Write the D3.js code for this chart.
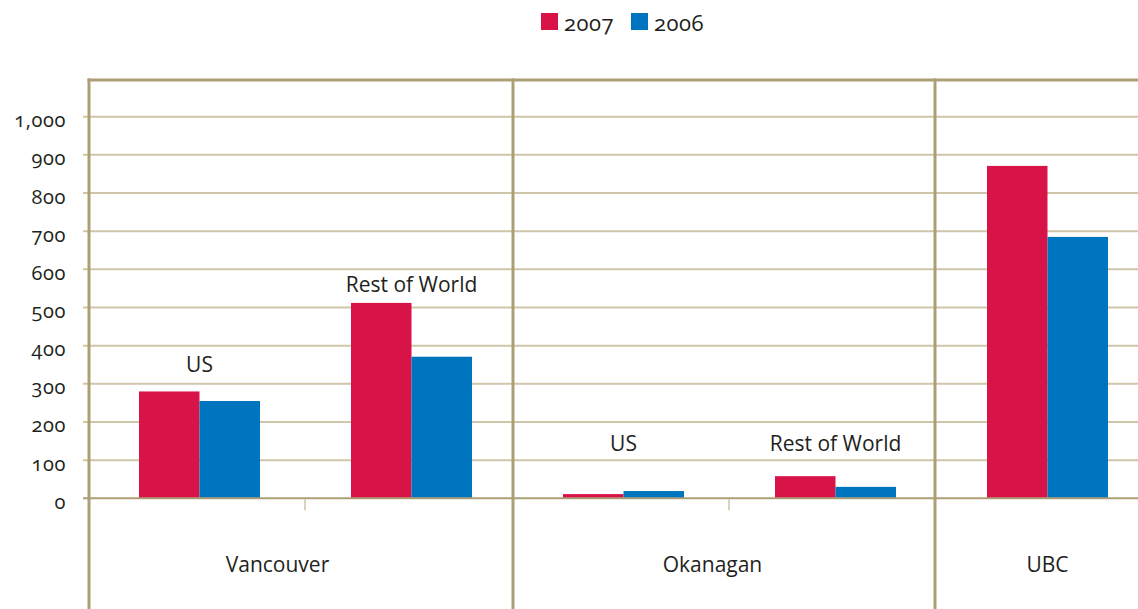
<!DOCTYPE html>
<html>
<head>
<meta charset="utf-8">
<script src="https://cdn.jsdelivr.net/npm/d3@7"></script>
<style>
  body { margin: 0; background: #fff; }
  text { font-family: "Open Sans", "Noto Sans", sans-serif; fill: #231f20; }
  .num { font-variant-numeric: oldstyle-nums; }
</style>
</head>
<body>
<svg width="1138" height="609"></svg>
<script>
  // chart values
  const regions = ["Vancouver", "Okanagan", "UBC"];
  const groups = ["Vancouver|US", "Vancouver|Rest of World", "Okanagan|US", "Okanagan|Rest of World", "UBC|"];
  const years = ["2007", "2006"];
  const values2007 = [280, 512, 11, 58, 871];
  const values2006 = [255, 371, 19, 30, 685];
  const yTicks = [0, 100, 200, 300, 400, 500, 600, 700, 800, 900, 1000];

  const colors = { "2007": "#d81348", "2006": "#0075bf" };
  const lineDark = "#ad9f75";
  const lineLight = "#cfc5a9";

  const svg = d3.select("svg");
  const topY = 80, zeroY = 498.3, pxPer100 = 38.16;

  const y = d3.scaleLinear()
      .domain([0, 1000])
      .range([zeroY, zeroY - 10 * pxPer100]);

  const x = d3.scaleBand()
      .domain(groups)
      .range([93.5, 93.5 + 212 * groups.length])
      .padding(0);

  const xi = d3.scaleBand()
      .domain(years)
      .range([45.5, 166.5]);

  // gridlines
  svg.append("g")
    .selectAll("line")
    .data(yTicks.filter(d => d > 0))
    .enter().append("line")
      .attr("x1", 83)
      .attr("x2", 1138)
      .attr("y1", d => y(d))
      .attr("y2", d => y(d))
      .attr("stroke", lineLight)
      .attr("stroke-width", 2);

  // y axis labels
  const yAxis = svg.append("g")
      .attr("transform", "translate(88,0)")
      .call(d3.axisLeft(y).tickValues(yTicks).tickSize(0).tickPadding(22).tickFormat(d3.format(",")));
  yAxis.select(".domain").remove();
  yAxis.selectAll("text")
      .attr("class", "num")
      .attr("dy", "0.5em")
      .style("font-size", "20px")
      .style("letter-spacing", "0.6px")
      .attr("fill", "#231f20");

  // bars
  const rows = groups.map((g, i) => ({ key: g, "2007": values2007[i], "2006": values2006[i] }));

  const barGroups = svg.append("g")
    .selectAll("g")
    .data(rows)
    .enter().append("g")
      .attr("transform", d => "translate(" + x(d.key) + ",0)");

  barGroups.selectAll("rect")
    .data(d => years.map(yr => ({ year: yr, value: d[yr] })))
    .enter().append("rect")
      .attr("x", d => xi(d.year))
      .attr("width", xi.bandwidth())
      .attr("y", d => y(d.value))
      .attr("height", d => zeroY - y(d.value))
      .attr("fill", d => colors[d.year]);

  // zero line
  svg.append("line")
      .attr("x1", 83).attr("x2", 1138)
      .attr("y1", zeroY).attr("y2", zeroY)
      .attr("stroke", lineDark)
      .attr("stroke-width", 2);

  // small ticks between US and Rest of World
  svg.append("g")
    .selectAll("line")
    .data(["Vancouver|Rest of World", "Okanagan|Rest of World"])
    .enter().append("line")
      .attr("x1", d => x(d) - 0.5)
      .attr("x2", d => x(d) - 0.5)
      .attr("y1", zeroY + 1)
      .attr("y2", zeroY + 12)
      .attr("stroke", lineLight)
      .attr("stroke-width", 1.5);

  // section separators and top border
  const sepX = [x("Vancouver|US") - 4.5, x("Okanagan|US") - 4.5, x("UBC|") - 6.5];
  svg.append("line")
      .attr("x1", sepX[0] - 1.5).attr("x2", 1138)
      .attr("y1", topY).attr("y2", topY)
      .attr("stroke", lineDark)
      .attr("stroke-width", 3);
  svg.append("g")
    .selectAll("line")
    .data(sepX)
    .enter().append("line")
      .attr("x1", d => d).attr("x2", d => d)
      .attr("y1", topY - 1.5).attr("y2", 609)
      .attr("stroke", lineDark)
      .attr("stroke-width", 3);

  // sub-category labels
  const subLabelValue = [350, 560, 143, 143];
  svg.append("g")
    .selectAll("text")
    .data(groups.slice(0, 4))
    .enter().append("text")
      .attr("x", d => x(d) + 106)
      .attr("y", (d, i) => y(subLabelValue[i]))
      .attr("dy", "0.35em")
      .attr("text-anchor", "middle")
      .style("font-size", "21px")
      .text(d => d.split("|")[1]);

  // region labels
  const regionCenter = [x("Vancouver|Rest of World") - 28, x("Okanagan|Rest of World") - 17, x("UBC|") + 106];
  svg.append("g")
    .selectAll("text")
    .data(regions)
    .enter().append("text")
      .attr("x", (d, i) => regionCenter[i])
      .attr("y", 565)
      .attr("dy", "0.35em")
      .attr("text-anchor", "middle")
      .style("font-size", "21px")
      .text(d => d);

  // legend
  const legend = svg.append("g")
      .attr("transform", "translate(541,13)")
    .selectAll("g")
    .data(years)
    .enter().append("g")
      .attr("transform", (d, i) => "translate(" + i * 90 + ",0)");

  legend.append("rect")
      .attr("width", 17)
      .attr("height", 17)
      .attr("fill", d => colors[d]);

  legend.append("text")
      .attr("class", "num")
      .attr("x", 23)
      .attr("y", 9)
      .attr("dy", "0.4em")
      .style("font-size", "22px")
      .style("letter-spacing", "0.5px")
      .text(d => d);
</script>
</body>
</html>
